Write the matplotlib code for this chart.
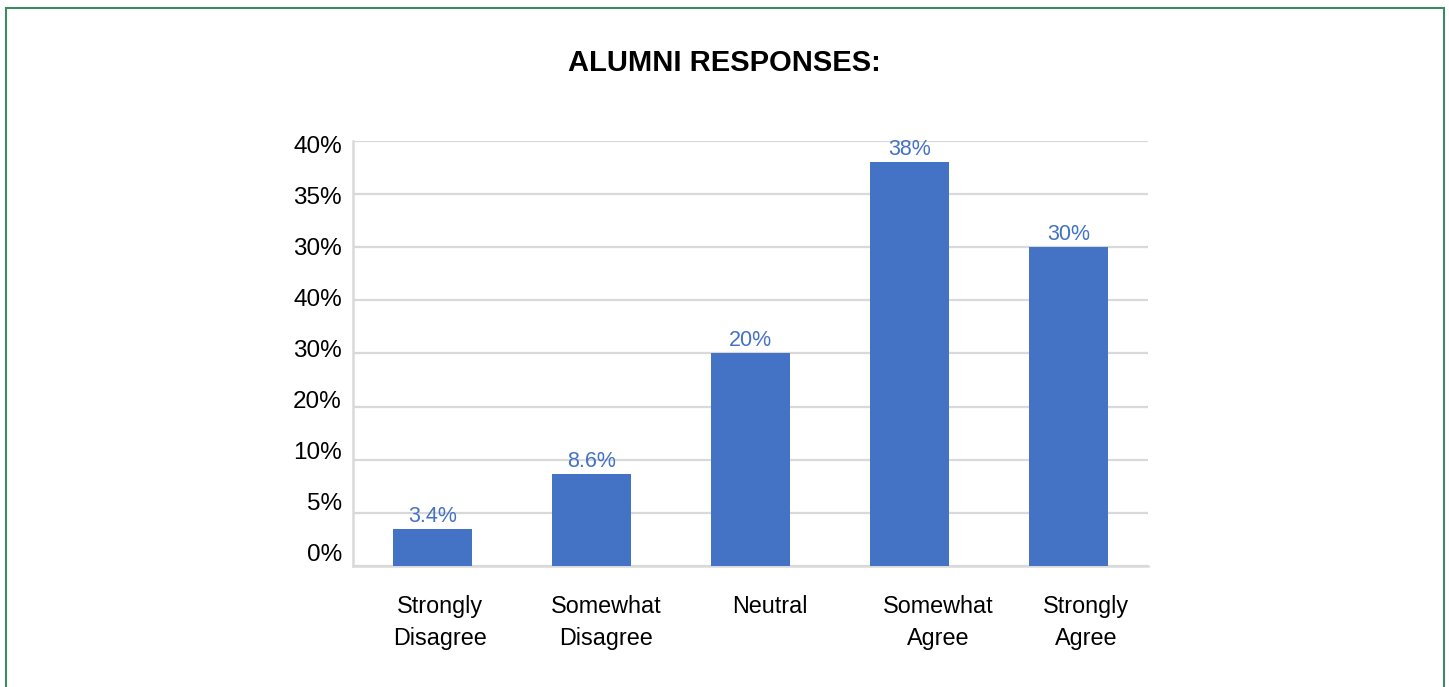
import matplotlib.pyplot as plt
from matplotlib.patches import Rectangle

plt.rcParams['font.family'] = ['Liberation Sans', 'DejaVu Sans']

categories = ['Strongly\nDisagree', 'Somewhat\nDisagree', 'Neutral', 'Somewhat\nAgree', 'Strongly\nAgree']
# bar heights in gridline steps, as drawn on the chart's stepped axis
heights = [0.70, 1.73, 4.0, 7.60, 6.0]
value_labels = ['3.4%', '8.6%', '20%', '38%', '30%']
tick_labels = ['0%', '5%', '10%', '20%', '30%', '40%', '30%', '35%', '40%']

# category text sits a little right of each bar
label_shift = [0.05, 0.09, 0.12, 0.18, 0.11]

bar_color = '#4472C4'
grid_color = '#d9d9d9'

fig = plt.figure(figsize=(14.49, 6.87), dpi=100)
ax = fig.add_axes([0.2436, 0.1761, 0.5487, 0.6187])

x = list(range(len(categories)))
bars = ax.bar(x, heights, width=0.5, color=bar_color, zorder=3)
for b, lab in zip(bars, value_labels):
    ax.annotate(lab, (b.get_x() + b.get_width() / 2, b.get_height()),
                xytext=(0, 1.5), textcoords='offset points',
                ha='center', va='bottom', fontsize=15.5, color=bar_color)

ax.set_xlim(-0.5, 4.5)
ax.set_ylim(0, 8)

# gridlines sit on whole steps; the labels drift slightly above them
ax.set_yticks(range(len(tick_labels)), minor=True)
ax.set_yticks([0.26 + 0.96 * i for i in range(len(tick_labels))])
ax.set_yticklabels(tick_labels, fontsize=17.5)
ax.set_xticks([i + s for i, s in zip(x, label_shift)])
ax.set_xticklabels(categories, fontsize=16.8, linespacing=1.5)
ax.tick_params(axis='y', which='both', length=0, pad=8)
ax.tick_params(axis='x', length=0, pad=21)
ax.grid(axis='y', which='minor', color=grid_color, linewidth=1.6, zorder=0)
for s in ['top', 'right']:
    ax.spines[s].set_visible(False)
for s in ['left', 'bottom']:
    ax.spines[s].set_color(grid_color)
    ax.spines[s].set_linewidth(1.8)

fig.text(0.5, 0.908, 'ALUMNI RESPONSES:', ha='center', va='center',
         fontsize=21, fontweight='bold')

# green border round the panel
fig.patches.append(Rectangle((6 / 1449, -0.05), 1438 / 1449, 1.05 - 8 / 687,
                             transform=fig.transFigure, fill=False,
                             edgecolor='#3d8b64', linewidth=1.5))

fig.savefig('out.png', dpi=100)
